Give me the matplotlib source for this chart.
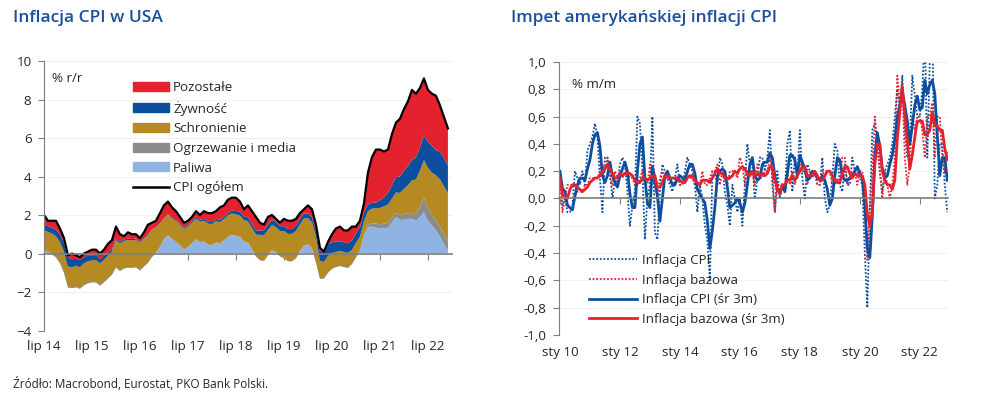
import numpy as np
import pandas as pd
import matplotlib
matplotlib.use("Agg")
import matplotlib.pyplot as plt
from matplotlib.patches import Patch
from matplotlib.lines import Line2D

plt.rcParams['font.family'] = ['Open Sans', 'DejaVu Sans']

# ---------------- left chart: CPI y/y and contributions (lip 2014 - gru 2022), pp
cpi_yoy = [2.0, 1.7, 1.7, 1.7, 1.3, 0.8,
           -0.1, 0.0, -0.1, -0.2, 0.0, 0.1, 0.2, 0.2, 0.0, 0.2, 0.5, 0.7,
           1.4, 1.0, 0.9, 1.1, 1.0, 1.0, 0.8, 1.1, 1.5, 1.6, 1.7, 2.1,
           2.5, 2.7, 2.4, 2.2, 1.9, 1.6, 1.7, 1.9, 2.2, 2.0, 2.2, 2.1,
           2.1, 2.2, 2.4, 2.5, 2.8, 2.9, 2.9, 2.7, 2.3, 2.5, 2.2, 1.9,
           1.6, 1.5, 1.9, 2.0, 1.8, 1.6, 1.8, 1.7, 1.7, 1.8, 2.1, 2.3,
           2.5, 2.3, 1.5, 0.3, 0.1, 0.6, 1.0, 1.3, 1.4, 1.2, 1.2, 1.4,
           1.4, 1.7, 2.6, 4.2, 5.0, 5.4, 5.4, 5.3, 5.4, 6.2, 6.8, 7.0,
           7.5, 7.9, 8.5, 8.3, 8.6, 9.1, 8.5, 8.3, 8.2, 7.7, 7.1, 6.5]
fuel = [0.15, 0.05, -0.05, -0.2, -0.5, -1.0,
        -1.77, -1.8, -1.75, -1.83, -1.65, -1.55, -1.5, -1.5, -1.67, -1.5, -1.3, -1.1,
        -0.73, -0.91, -0.78, -0.73, -0.75, -0.71, -0.88, -0.68, -0.48, -0.18, 0.02, 0.32,
        0.72, 0.92, 0.72, 0.58, 0.38, 0.18, 0.3, 0.5, 0.72, 0.55, 0.6, 0.45,
        0.4, 0.55, 0.5, 0.65, 0.85, 0.95, 0.9, 0.85, 0.6, 0.55, 0.2, -0.15,
        -0.35, -0.38, -0.1, 0.15, 0.05, -0.15, -0.25, -0.4, -0.4, -0.25, 0.1, 0.4,
        0.45, 0.25, -0.45, -1.3, -1.3, -1.0, -0.8, -0.7, -0.65, -0.7, -0.75, -0.55,
        -0.2, 0.1, 0.9, 1.35, 1.4, 1.35, 1.3, 1.3, 1.35, 1.6, 1.9, 1.75,
        1.75, 1.8, 1.8, 1.7, 1.9, 2.15, 1.7, 1.45, 1.2, 0.9, 0.5, 0.15]
utilities = [0.07] * 6 + [0.05] * 12 + [0.03] * 12 + [0.05] * 12 + [0.03] * 12 + \
            [0.02] * 12 + [0.03] * 12 + \
            [0.05, 0.08, 0.12, 0.15, 0.18, 0.2, 0.22, 0.25, 0.25, 0.25, 0.22, 0.25,
             0.3, 0.3, 0.3, 0.4, 0.55, 0.75, 0.65, 0.55, 0.52, 0.5, 0.5, 0.5]
shelter = [1.0, 1.0, 1.02, 1.02, 1.03, 1.03,
           1.05, 1.05, 1.07, 1.08, 1.1, 1.1, 1.1, 1.12, 1.12, 1.13, 1.15, 1.15,
           1.4, 1.4, 1.4, 1.4, 1.4, 1.4, 1.4, 1.4, 1.4, 1.4, 1.3, 1.2,
           1.05, 1.05, 1.05, 1.05, 1.05, 1.05, 1.05, 1.05, 1.05, 1.05, 1.05, 1.05,
           1.1, 1.1, 1.1, 1.1, 1.1, 1.1, 1.1, 1.1, 1.1, 1.1, 1.1, 1.1,
           1.3, 1.3, 1.3, 1.3, 1.3, 1.3, 1.4, 1.4, 1.4, 1.4, 1.4, 1.4,
           1.35, 1.35, 1.3, 0.9, 0.85, 0.85, 0.8, 0.75, 0.75, 0.75, 0.75, 0.7,
           0.7, 0.68, 0.65, 0.7, 0.75, 0.8, 0.85, 0.9, 0.95, 1.0, 1.05, 1.15,
           1.3, 1.45, 1.7, 1.75, 1.85, 1.95, 2.1, 2.2, 2.35, 2.45, 2.5, 2.5]
food = [0.3, 0.3, 0.3, 0.35, 0.4, 0.45,
        0.45, 0.4, 0.35, 0.35, 0.3, 0.3, 0.25, 0.25, 0.2, 0.2, 0.15, 0.1,
        0.1, 0.1, 0.08, 0.08, 0.07, 0.05, 0.05, 0.03, 0.03, 0.02, 0.02, 0.02,
        0.02, 0.03, 0.05, 0.05, 0.06, 0.07, 0.08, 0.09, 0.1, 0.1, 0.1, 0.1,
        0.1, 0.12, 0.12, 0.12, 0.12, 0.15, 0.18, 0.2, 0.2, 0.2, 0.2, 0.22,
        0.22, 0.27, 0.27, 0.27, 0.28, 0.25, 0.25, 0.25, 0.25, 0.28, 0.27, 0.25,
        0.25, 0.25, 0.3, 0.5, 0.5, 0.6, 0.55, 0.55, 0.5, 0.5, 0.5, 0.5,
        0.5, 0.5, 0.45, 0.35, 0.3, 0.3, 0.4, 0.45, 0.6, 0.7, 0.8, 0.85,
        0.95, 1.0, 1.05, 1.15, 1.2, 1.3, 1.35, 1.4, 1.3, 1.45, 1.45, 1.42]
other = [0.48, 0.28, 0.36, 0.46, 0.3, 0.25,
         0.12, 0.3, 0.18, 0.15, 0.2, 0.2, 0.3, 0.28, 0.3, 0.32, 0.45, 0.5,
         0.6, 0.38, 0.17, 0.32, 0.25, 0.23, 0.2, 0.32, 0.52, 0.33, 0.33, 0.53,
         0.66, 0.65, 0.53, 0.47, 0.36, 0.25, 0.22, 0.21, 0.28, 0.25, 0.4, 0.45,
         0.47, 0.4, 0.65, 0.6, 0.7, 0.67, 0.69, 0.52, 0.37, 0.62, 0.67, 0.7,
         0.41, 0.29, 0.41, 0.26, 0.15, 0.18, 0.38, 0.43, 0.43, 0.35, 0.31, 0.23,
         0.42, 0.42, 0.32, 0.17, 0.02, 0.12, 0.42, 0.67, 0.77, 0.62, 0.67, 0.72,
         0.35, 0.34, 0.48, 1.65, 2.37, 2.75, 2.63, 2.4, 2.25, 2.65, 2.83, 3.0,
         3.2, 3.35, 3.65, 3.3, 3.1, 2.95, 2.7, 2.7, 2.83, 2.4, 2.15, 1.93]
left_ticks = [0, 12, 24, 36, 48, 60, 72, 84, 96]
left_labels = ["lip 14", "lip 15", "lip 16", "lip 17", "lip 18",
               "lip 19", "lip 20", "lip 21", "lip 22"]

# ---------------- right chart: m/m (sty 2010 - gru 2022), %
cpi_mm = [0.2, -0.05, 0.0, -0.1, -0.1, -0.05, 0.2, 0.15, 0.1, 0.2, 0.1, 0.35,
          0.4, 0.45, 0.55, 0.45, 0.15, -0.1, 0.3, 0.3, 0.2, 0.0, 0.15, 0.1,
          0.25, 0.3, 0.25, 0.05, -0.2, -0.05, 0.05, 0.6, 0.55, 0.2, -0.3, 0.0,
          0.1, 0.6, -0.25, -0.3, 0.05, 0.25, 0.2, 0.15, 0.1, 0.05, 0.15, 0.25,
          0.1, 0.1, 0.2, 0.3, 0.25, 0.2, 0.1, -0.1, 0.1, 0.0, -0.2, -0.3,
          -0.6, 0.2, 0.2, 0.1, 0.3, 0.25, 0.05, -0.05, -0.2, 0.1, 0.0, -0.1,
          0.0, -0.2, 0.1, 0.4, 0.25, 0.25, 0.0, 0.15, 0.3, 0.3, 0.2, 0.3,
          0.5, 0.1, -0.1, 0.2, 0.0, 0.1, 0.05, 0.4, 0.5, 0.05, 0.3, 0.15,
          0.5, 0.15, 0.0, 0.25, 0.2, 0.15, 0.2, 0.1, 0.1, 0.3, 0.0, -0.1,
          -0.05, 0.15, 0.4, 0.35, 0.1, 0.05, 0.25, 0.1, 0.1, 0.3, 0.2, 0.2,
          0.15, 0.1, -0.4, -0.8, -0.1, 0.5, 0.55, 0.4, 0.2, 0.05, 0.2, 0.25,
          0.3, 0.4, 0.6, 0.8, 0.65, 0.9, 0.5, 0.3, 0.4, 0.9, 0.75, 0.6,
          0.6, 0.8, 1.2, 0.3, 1.0, 1.3, 0.0, 0.1, 0.4, 0.4, 0.1, -0.1]
core_mm = [0.15, -0.1, 0.0, 0.1, 0.1, 0.1, 0.1, 0.05, 0.05, 0.05, 0.1, 0.1,
           0.15, 0.15, 0.15, 0.15, 0.2, 0.25, 0.2, 0.3, 0.15, 0.1, 0.2, 0.15,
           0.2, 0.15, 0.2, 0.2, 0.15, 0.15, 0.1, 0.1, 0.15, 0.2, 0.1, 0.1,
           0.25, 0.15, 0.1, 0.0, 0.15, 0.2, 0.15, 0.15, 0.15, 0.15, 0.15, 0.15,
           0.1, 0.1, 0.15, 0.2, 0.15, 0.15, 0.1, 0.1, 0.1, 0.2, 0.1, 0.1,
           0.15, 0.2, 0.2, 0.25, 0.1, 0.2, 0.15, 0.1, 0.2, 0.2, 0.2, 0.15,
           0.3, 0.25, 0.1, 0.2, 0.2, 0.2, 0.1, 0.25, 0.15, 0.15, 0.2, 0.2,
           0.3, 0.2, -0.1, 0.1, 0.1, 0.1, 0.1, 0.2, 0.1, 0.2, 0.1, 0.2,
           0.3, 0.2, 0.2, 0.1, 0.2, 0.2, 0.2, 0.1, 0.1, 0.2, 0.2, 0.2,
           0.2, 0.1, 0.1, 0.15, 0.1, 0.3, 0.3, 0.1, 0.15, 0.2, 0.2, 0.1,
           0.2, 0.2, -0.1, -0.45, -0.05, 0.2, 0.6, 0.4, 0.2, 0.0, 0.2, 0.1,
           0.0, 0.1, 0.3, 0.9, 0.7, 0.85, 0.3, 0.1, 0.25, 0.6, 0.5, 0.6,
           0.6, 0.5, 0.3, 0.6, 0.6, 0.7, 0.3, 0.6, 0.6, 0.3, 0.2, 0.35]
right_ticks = [0, 24, 48, 72, 96, 120, 144]
right_labels = ["sty 10", "sty 12", "sty 14", "sty 16", "sty 18", "sty 20", "sty 22"]
right_yticks = [-1.0, -0.8, -0.6, -0.4, -0.2, 0.0, 0.2, 0.4, 0.6, 0.8, 1.0]
right_ylabels = ["-1,0", "-0,8", "-0,6", "-0,4", "-0,2", "0,0",
                 "0,2", "0,4", "0,6", "0,8", "1,0"]

RED = "#e4222d"
BLUE = "#0d4f9f"
GOLD = "#b58a22"
GREY = "#8c8c8c"
LIGHT = "#8fb4e3"
AXIS = "#7f7f7f"
TITLE = "#1b4f9c"
TXT = "#262626"
FS = 9.6

fig = plt.figure(figsize=(9.95, 4.01), dpi=100)

# ---------------- left
ax = fig.add_axes([0.0442, 0.1758, 0.410, 0.672])
m = np.arange(len(cpi_yoy))
ax.stackplot(m, fuel, utilities, shelter, food, other,
             colors=[LIGHT, GREY, GOLD, BLUE, RED], linewidth=0)
ax.plot(m, cpi_yoy, color="black", lw=1.6, solid_joinstyle="round")
ax.set_xlim(0, 102)
ax.set_ylim(-4, 10)
ax.set_yticks(range(-4, 11, 2))
ax.grid(axis="y", color="#f0f0f0", lw=0.8)
ax.set_axisbelow(True)
for s in ("top", "right"):
    ax.spines[s].set_visible(False)
ax.spines["left"].set_color(AXIS)
ax.spines["bottom"].set_position(("data", 0))
ax.spines["bottom"].set_color(AXIS)
ax.spines["bottom"].set_linewidth(1.2)
ax.set_xticks(left_ticks, labels=[""] * len(left_ticks))
ax.tick_params(axis="x", length=4, color=AXIS)
ax.tick_params(axis="y", length=4, color=AXIS, labelsize=FS, labelcolor=TXT, pad=5)
sec = ax.secondary_xaxis("bottom")
sec.set_xticks(left_ticks, labels=left_labels)
sec.tick_params(length=0, labelsize=FS, labelcolor=TXT, pad=7)
sec.spines["bottom"].set_visible(False)
ax.text(0.019, 0.96, "% r/r", transform=ax.transAxes, fontsize=FS, color=TXT,
        va="top")

handles = [Patch(color=RED, label="Pozostałe"),
           Patch(color=BLUE, label="Żywność"),
           Patch(color=GOLD, label="Schronienie"),
           Patch(color=GREY, label="Ogrzewanie i media"),
           Patch(color=LIGHT, label="Paliwa"),
           Line2D([], [], color="black", lw=1.8, label="CPI ogółem")]
fig.legend(handles=handles, loc="upper left", bbox_to_anchor=(133 / 995, 1 - 81 / 401),
           frameon=False, fontsize=FS, handlelength=2.7, handleheight=0.65,
           handletextpad=0.3, labelspacing=0.5, borderpad=0, borderaxespad=0,
           labelcolor=TXT)

# ---------------- right
ax2 = fig.add_axes([0.5615, 0.1646, 0.3913, 0.6808])
t = np.arange(len(cpi_mm))
cpi_3m = pd.Series(cpi_mm).rolling(3, min_periods=1).mean()
core_3m = pd.Series(core_mm).rolling(3, min_periods=1).mean()
ax2.plot(t, cpi_mm, color=BLUE, lw=1.3, ls=(0, (1, 1)))
ax2.plot(t, core_mm, color=RED, lw=1.3, ls=(0, (1, 1)))
ax2.plot(t, cpi_3m, color=BLUE, lw=2.0)
ax2.plot(t, core_3m, color=RED, lw=2.0)
ax2.set_xlim(-0.5, 155.3)
ax2.set_ylim(-1, 1)
ax2.set_yticks(right_yticks, labels=right_ylabels)
ax2.grid(axis="y", color="#f2f2f2", lw=0.8)
ax2.set_axisbelow(True)
for s in ("top", "right"):
    ax2.spines[s].set_visible(False)
ax2.spines["left"].set_color(AXIS)
ax2.spines["bottom"].set_position(("data", 0))
ax2.spines["bottom"].set_color(AXIS)
ax2.spines["bottom"].set_linewidth(1.2)
ax2.set_xticks(right_ticks, labels=[""] * len(right_ticks))
ax2.tick_params(axis="x", length=4, color=AXIS)
ax2.tick_params(axis="y", length=4, color=AXIS, labelsize=FS, labelcolor=TXT, pad=5)
sec2 = ax2.secondary_xaxis("bottom")
sec2.set_xticks(right_ticks, labels=right_labels)
sec2.tick_params(length=0, labelsize=FS, labelcolor=TXT, pad=8)
sec2.spines["bottom"].set_visible(False)
ax2.text(0.035, 0.94, "% m/m", transform=ax2.transAxes, fontsize=FS, color=TXT,
         va="top")

handles2 = [Line2D([], [], color=BLUE, lw=1.3, ls=(0, (1, 1)), label="Inflacja CPI"),
            Line2D([], [], color=RED, lw=1.3, ls=(0, (1, 1)), label="Inflacja bazowa"),
            Line2D([], [], color=BLUE, lw=2.0, label="Inflacja CPI (śr 3m)"),
            Line2D([], [], color=RED, lw=2.0, label="Inflacja bazowa (śr 3m)")]
fig.legend(handles=handles2, loc="upper left", bbox_to_anchor=(589 / 995, 1 - 254 / 401),
           frameon=False, fontsize=FS, handlelength=3.6, handletextpad=0.35,
           labelspacing=0.5, borderpad=0, borderaxespad=0, labelcolor=TXT)

# ---------------- titles and source
fig.text(13 / 995, 1 - 18 / 401, "Inflacja CPI w USA", fontsize=12.5,
         fontweight="semibold", color=TITLE, va="center")
fig.text(511 / 995, 1 - 18 / 401, "Impet amerykańskiej inflacji CPI", fontsize=12.4,
         fontweight="semibold", color=TITLE, va="center")
fig.text(13 / 995, 1 - 384 / 401, "Źródło: Macrobond, Eurostat, PKO Bank Polski.",
         fontsize=8.5, color=TXT, va="center")

fig.savefig("out.png", dpi=100)
